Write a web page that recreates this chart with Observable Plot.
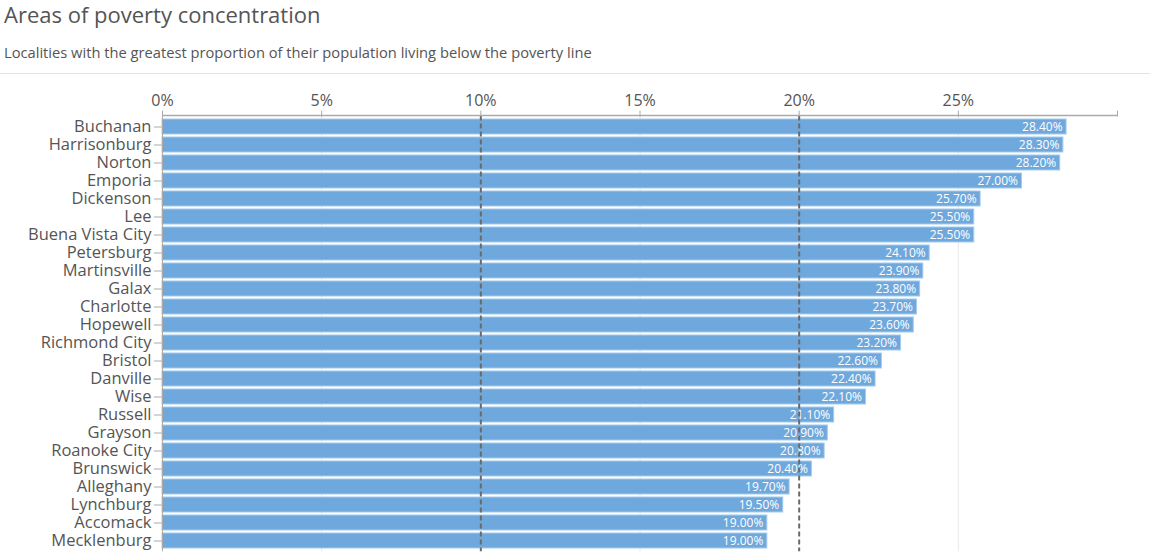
<!DOCTYPE html>
<html>
<head>
<meta charset="utf-8">
<script src="https://cdn.jsdelivr.net/npm/d3@7"></script>
<script src="https://cdn.jsdelivr.net/npm/@observablehq/plot@0.6"></script>
<style>
  html, body { margin: 0; padding: 0; background: #fff; width: 1150px; height: 554px; overflow: hidden; font-family: "Open Sans", sans-serif; }
  #title { position: absolute; left: 4px; top: 3px; font-size: 22px; line-height: 22px; color: #555; white-space: nowrap; }
  #subtitle { position: absolute; left: 4px; top: 45px; font-size: 14.7px; line-height: 15px; color: #555; white-space: nowrap; }
  #rule { position: absolute; left: 0; top: 73px; width: 1150px; height: 0; border-top: 1px solid #e4e4e4; }
  #chart { position: absolute; left: 0; top: 80px; }
</style>
</head>
<body>
<div id="title">Areas of poverty concentration</div>
<div id="subtitle">Localities with the greatest proportion of their population living below the poverty line</div>
<div id="rule"></div>
<div id="chart"></div>
<script>
const localities = ["Buchanan","Harrisonburg","Norton","Emporia","Dickenson","Lee","Buena Vista City","Petersburg","Martinsville","Galax","Charlotte","Hopewell","Richmond City","Bristol","Danville","Wise","Russell","Grayson","Roanoke City","Brunswick","Alleghany","Lynchburg","Accomack","Mecklenburg"];
const povertyRates = [28.4,28.3,28.2,27.0,25.7,25.5,25.5,24.1,23.9,23.8,23.7,23.6,23.2,22.6,22.4,22.1,21.1,20.9,20.8,20.4,19.7,19.5,19.0,19.0];
const xTicks = [0,5,10,15,20,25,30];
const gridValues = [5,15,25];
const referenceValues = [10,20];

const data = localities.map((name, i) => ({name, value: povertyRates[i]}));

const plot = Plot.plot({
  width: 1150,
  height: 474,
  marginLeft: 162,
  marginRight: 33,
  marginTop: 35.6,
  marginBottom: 2.7,
  style: {fontFamily: "'Open Sans', sans-serif", color: "#555", background: "transparent"},
  x: {domain: [0, 30]},
  y: {domain: localities, padding: 0.15},
  marks: [
    Plot.ruleX(gridValues, {stroke: "#e8e8e8", strokeWidth: 1}),
    Plot.axisX({anchor: "top", ticks: xTicks, tickSize: 6, tickPadding: 4, fontSize: 16, stroke: "#aaa", strokeOpacity: 1, fill: "#555",
      tickFormat: d => d === 30 ? "" : d + "%", label: null}),
    Plot.axisY({tickSize: 8, tickPadding: 3, fontSize: 16.5, stroke: "#aaa", strokeOpacity: 1, fill: "#555", label: null}),
    Plot.barX(data, {x: "value", y: "name", fill: "#6fa8dc", stroke: "#a6cbec", strokeWidth: 1}),
    Plot.text(data, {x: "value", y: "name", text: d => d.value.toFixed(2) + "%", textAnchor: "end", dx: -4, fill: "#fff", fontSize: 12}),
    Plot.ruleX([0], {stroke: "#aaa", strokeWidth: 1}),
    Plot.ruleX(referenceValues, {stroke: "#6a6a6a", strokeWidth: 2, strokeDasharray: "5,3"})
  ]
});

// top domain line of the axis, positioned via the plot's own x scale
const xScale = plot.scale("x");
const yScale = plot.scale("y");
const frameTop = Math.min(...yScale.range);
d3.select(plot).append("line")
  .attr("x1", xScale.apply(0)).attr("x2", xScale.apply(30))
  .attr("y1", frameTop).attr("y2", frameTop)
  .attr("stroke", "#aaa").attr("stroke-width", 1.5);

document.getElementById("chart").appendChild(plot);
</script>
</body>
</html>
